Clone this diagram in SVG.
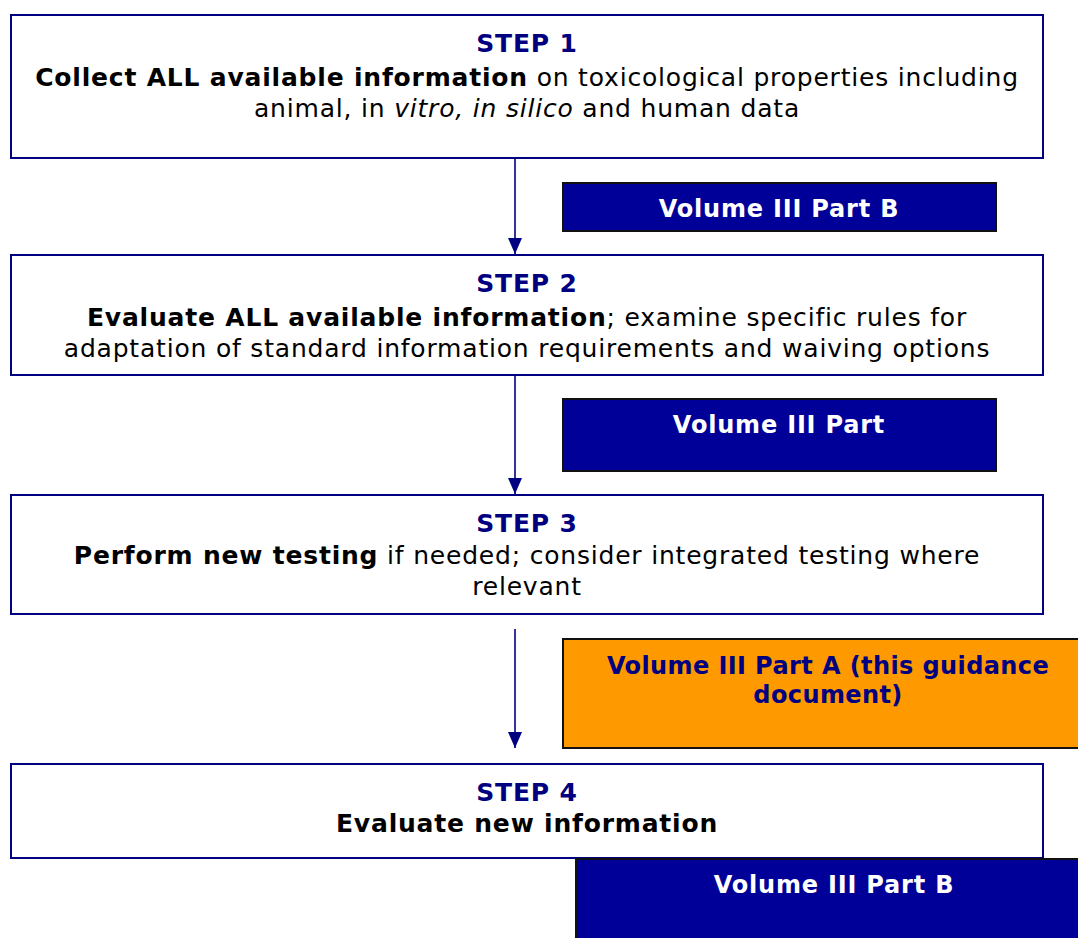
<svg xmlns="http://www.w3.org/2000/svg" width="1078" height="938" viewBox="0 0 1078 938">
<style>
.step{fill:#fff;stroke:#000080;stroke-width:2}
.vol{fill:#000099;stroke:#111;stroke-width:2}
.org{fill:#FF9900;stroke:#111;stroke-width:2}
text{font-family:"DejaVu Sans",Verdana,sans-serif;font-size:25px;letter-spacing:0.8px;text-anchor:middle;fill:#000}
.h{fill:#000080;font-weight:bold}
.b{font-weight:bold}
.vt{fill:#fff;font-weight:bold;font-size:24px}
.ot{fill:#000080;font-weight:bold;font-size:24px;letter-spacing:0.4px}
.c{stroke:#000080;stroke-width:1.6;fill:none}
</style>
<defs>
<marker id="ah2" markerWidth="16" markerHeight="14" refX="16" refY="7" orient="auto" markerUnits="userSpaceOnUse" viewBox="0 0 16 14">
<path d="M0,0 L16,7 L0,14 Z" fill="#000080"/>
</marker>
</defs>
<g id="connectors">
<line class="c" x1="515" y1="158" x2="515" y2="254" marker-end="url(#ah2)"/>
<line class="c" x1="515" y1="375" x2="515" y2="494" marker-end="url(#ah2)"/>
<line class="c" x1="515" y1="629" x2="515" y2="748" marker-end="url(#ah2)"/>
</g>
<g id="step1">
<rect class="step" x="11" y="15" width="1032" height="143"/>
<text class="h" x="527" y="52">STEP 1</text>
<text x="527" y="86"><tspan class="b">Collect ALL available information</tspan> on toxicological properties including</text>
<text x="527" y="117">animal, in <tspan font-style="italic">vitro, in silico</tspan> and human data</text>
</g>
<g id="vol1">
<rect class="vol" x="563" y="183" width="433" height="48"/>
<text class="vt" x="779" y="217">Volume III Part B</text>
</g>
<g id="step2">
<rect class="step" x="11" y="255" width="1032" height="120"/>
<text class="h" x="527" y="292">STEP 2</text>
<text x="527" y="326"><tspan class="b">Evaluate ALL available information</tspan>; examine specific rules for</text>
<text x="527" y="357">adaptation of standard information requirements and waiving options</text>
</g>
<g id="vol2">
<rect class="vol" x="563" y="399" width="433" height="72"/>
<text class="vt" x="779" y="433">Volume III Part</text>
</g>
<g id="step3">
<rect class="step" x="11" y="495" width="1032" height="119"/>
<text class="h" x="527" y="532">STEP 3</text>
<text x="527" y="564"><tspan class="b">Perform new testing</tspan> if needed; consider integrated testing where</text>
<text x="527" y="595">relevant</text>
</g>
<g id="vol3">
<rect class="org" x="563" y="639" width="530" height="109"/>
<text class="ot" x="828" y="674">Volume III Part A (this guidance</text>
<text class="ot" x="828" y="703">document)</text>
</g>
<g id="step4">
<rect class="step" x="11" y="764" width="1032" height="94"/>
<text class="h" x="527" y="801">STEP 4</text>
<text class="b" x="527" y="832">Evaluate new information</text>
</g>
<g id="vol4">
<rect class="vol" x="576" y="859" width="520" height="90"/>
<text class="vt" x="834" y="893">Volume III Part B</text>
</g>
</svg>
